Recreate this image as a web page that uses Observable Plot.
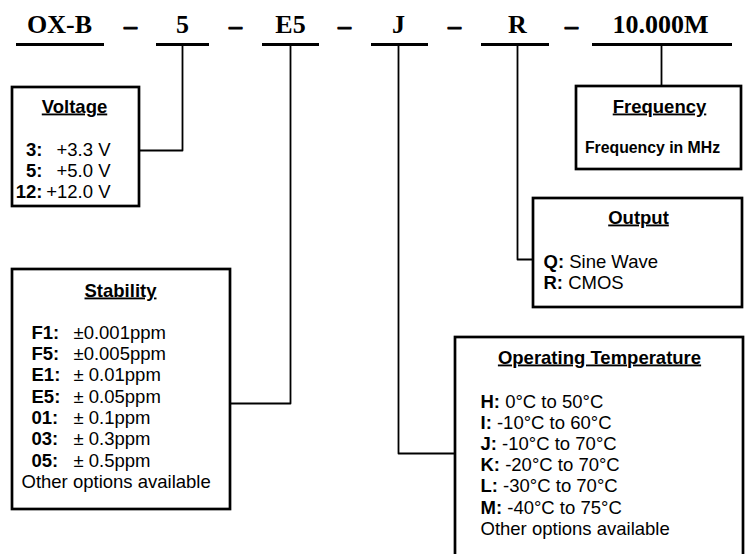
<!DOCTYPE html>
<html>
<head>
<meta charset="utf-8">
<script src="https://cdn.jsdelivr.net/npm/d3@7"></script>
<script src="https://cdn.jsdelivr.net/npm/@observablehq/plot@0.6"></script>
<style>
  html, body { margin: 0; padding: 0; background: #fff; }
  #chart svg { display: block; }
</style>
</head>
<body>
<div id="chart"></div>
<script>
// ---- content ----
const partCodes = ["OX-B", "5", "E5", "J", "R", "10.000M"];
const separator = "\u2013";
const boxTitles = ["Voltage", "Stability", "Output", "Operating Temperature", "Frequency"];
const voltageCodes = ["3:", "5:", "12:"];
const voltageValues = ["+3.3 V", "+5.0 V", "+12.0 V"];
const stabilityCodes = ["F1:", "F5:", "E1:", "E5:", "01:", "03:", "05:"];
const stabilityValues = ["\u00b10.001ppm", "\u00b10.005ppm", "\u00b1 0.01ppm", "\u00b1 0.05ppm", "\u00b1 0.1ppm", "\u00b1 0.3ppm", "\u00b1 0.5ppm"];
const outputCodes = ["Q:", "R:"];
const outputValues = ["Sine Wave", "CMOS"];
const temperatureCodes = ["H:", "I:", "J:", "K:", "L:", "M:"];
const temperatureValues = ["0\u00b0C to 50\u00b0C", "-10\u00b0C to 60\u00b0C", "-10\u00b0C to 70\u00b0C", "-20\u00b0C to 70\u00b0C", "-30\u00b0C to 70\u00b0C", "-40\u00b0C to 75\u00b0C"];
const otherOptionsNote = "Other options available";
const frequencyNote = "Frequency in MHz";

// ---- layout (diagram space) ----
const W = 745, H = 554;
const header = {
  baseline: 32, lineY: 44,
  cx: [59, 182, 290, 398, 517, 660],
  lineX1: [16, 156, 262, 371, 481, 592],
  lineX2: [104, 209, 319, 428, 549, 732],
  dashX: [130, 235, 344, 454, 571]
};
const boxes = [
  {name: "Voltage", x1: 12, x2: 139, y1: 87, y2: 206, tx: 74, ty: 112},
  {name: "Stability", x1: 12, x2: 230, y1: 269, y2: 509, tx: 120, ty: 296},
  {name: "Output", x1: 533, x2: 742, y1: 198, y2: 307, tx: 638, ty: 223},
  {name: "Operating Temperature", x1: 455, x2: 743, y1: 337, y2: 580, tx: 599, ty: 363},
  {name: "Frequency", x1: 576, x2: 741, y1: 86, y2: 169, tx: 659, ty: 112}
];
const connectorPaths = [
  [[182, 44], [182, 150], [139, 150]],
  [[290, 44], [290, 403], [230, 403]],
  [[398, 44], [398, 453], [455, 453]],
  [[517, 44], [517, 259], [533, 259]],
  [[661, 44], [661, 86]]
];

// ---- tables built from the arrays ----
const titleTable = boxTitles.map(t => {
  const b = boxes.find(b => b.name === t);
  return {text: t, x: b.tx, y: b.ty};
});
const underlineTable = partCodes.map((c, i) => ({x1: header.lineX1[i], x2: header.lineX2[i], y: header.lineY}));
const connectorTable = connectorPaths.flatMap((p, id) => p.map(([x, y]) => ({id, x, y})));

const voltRows = voltageCodes.map((c, i) => ({code: c, value: voltageValues[i], y: 155 + i * 21}));
const stabRows = stabilityCodes.map((c, i) => ({code: c, value: stabilityValues[i], y: 338 + i * 21.35}));
const mixedRows = [
  ...outputCodes.map((c, i) => ({text: c + " " + outputValues[i], x: 543, y: 267 + i * 21})),
  ...temperatureCodes.map((c, i) => ({text: c + " " + temperatureValues[i], x: 480, y: 407 + i * 21.2}))
];
const noteRows = [
  {text: otherOptionsNote, x: 21, y: 338 + stabilityCodes.length * 21.35},
  {text: otherOptionsNote, x: 480, y: 407 + temperatureCodes.length * 21.2}
];

const SANS = "'Liberation Sans', Arial, sans-serif";
const SERIF = "'Liberation Serif', 'Times New Roman', serif";
const FS = 18.5;

const chart = Plot.plot({
  width: W, height: H,
  margin: 0,
  x: {domain: [0, W], range: [0, W], axis: null},
  y: {domain: [0, H], range: [0, H], axis: null},
  style: {background: "#fff", color: "#000"},
  marks: [
    // header
    Plot.text(partCodes, {
      x: (d, i) => header.cx[i], y: () => header.baseline, text: d => d,
      fontFamily: SERIF, fontSize: 26, fontWeight: "bold", fill: "#000",
      textAnchor: "middle", lineAnchor: "bottom"
    }),
    Plot.text(header.dashX, {
      x: d => d, y: () => header.baseline + 1, text: () => separator,
      fontFamily: SERIF, fontSize: 26, fontWeight: "bold", fill: "#000",
      stroke: "#000", strokeWidth: 0.9,
      textAnchor: "middle", lineAnchor: "bottom"
    }),
    Plot.ruleY(underlineTable, {x1: "x1", x2: "x2", y: "y", stroke: "#000", strokeWidth: 3.2}),
    // connectors
    Plot.line(connectorTable, {x: "x", y: "y", z: "id", stroke: "#000", strokeWidth: 1.8, curve: "linear"}),
    // boxes
    Plot.rect(boxes, {x1: "x1", x2: "x2", y1: "y1", y2: "y2", fill: "#fff", stroke: "#000", strokeWidth: 2.7}),
    // titles
    Plot.text(titleTable, {
      x: "x", y: "y", text: "text",
      fontFamily: SANS, fontSize: FS, fontWeight: "bold", fill: "#000",
      textAnchor: "middle", lineAnchor: "bottom"
    }),
    // voltage rows
    Plot.text(voltRows, {
      x: () => 42, y: "y", text: "code",
      fontFamily: SANS, fontSize: FS, fontWeight: "bold", fill: "#000",
      textAnchor: "end", lineAnchor: "bottom"
    }),
    Plot.text(voltRows, {
      x: () => 110, y: "y", text: "value",
      fontFamily: SANS, fontSize: FS, fill: "#000",
      textAnchor: "end", lineAnchor: "bottom"
    }),
    // stability rows
    Plot.text(stabRows, {
      x: () => 31, y: "y", text: "code",
      fontFamily: SANS, fontSize: FS, fontWeight: "bold", fill: "#000",
      textAnchor: "start", lineAnchor: "bottom"
    }),
    Plot.text(stabRows, {
      x: () => 73, y: "y", text: "value",
      fontFamily: SANS, fontSize: FS, fill: "#000",
      textAnchor: "start", lineAnchor: "bottom"
    }),
    // output & temperature rows (bold code + regular value)
    Plot.text(mixedRows, {
      x: "x", y: "y", text: "text",
      fontFamily: SANS, fontSize: FS, fill: "#000",
      textAnchor: "start", lineAnchor: "bottom"
    }),
    // notes
    Plot.text(noteRows, {
      x: "x", y: "y", text: "text",
      fontFamily: SANS, fontSize: FS, fill: "#000",
      textAnchor: "start", lineAnchor: "bottom"
    }),
    Plot.text([frequencyNote], {
      x: () => 652, y: () => 152, text: d => d,
      fontFamily: SANS, fontSize: 15.8, fontWeight: "bold", fill: "#000",
      textAnchor: "middle", lineAnchor: "bottom"
    })
  ]
});

const svg = d3.select(chart);
const titleSet = new Set(boxTitles);
const mixedSet = new Set(mixedRows.map(d => d.text));
svg.selectAll("text")
  .filter(function () { return titleSet.has(this.textContent); })
  .style("text-decoration", "underline")
  .attr("text-decoration", "underline");
svg.selectAll("text")
  .filter(function () { return mixedSet.has(this.textContent); })
  .each(function () {
    const t = d3.select(this);
    const s = this.textContent;
    const k = s.indexOf(":") + 1;
    t.text(null);
    t.append("tspan").attr("font-weight", "bold").text(s.slice(0, k));
    t.append("tspan").text(s.slice(k));
  });
document.getElementById("chart").appendChild(chart);
</script>
</body>
</html>
